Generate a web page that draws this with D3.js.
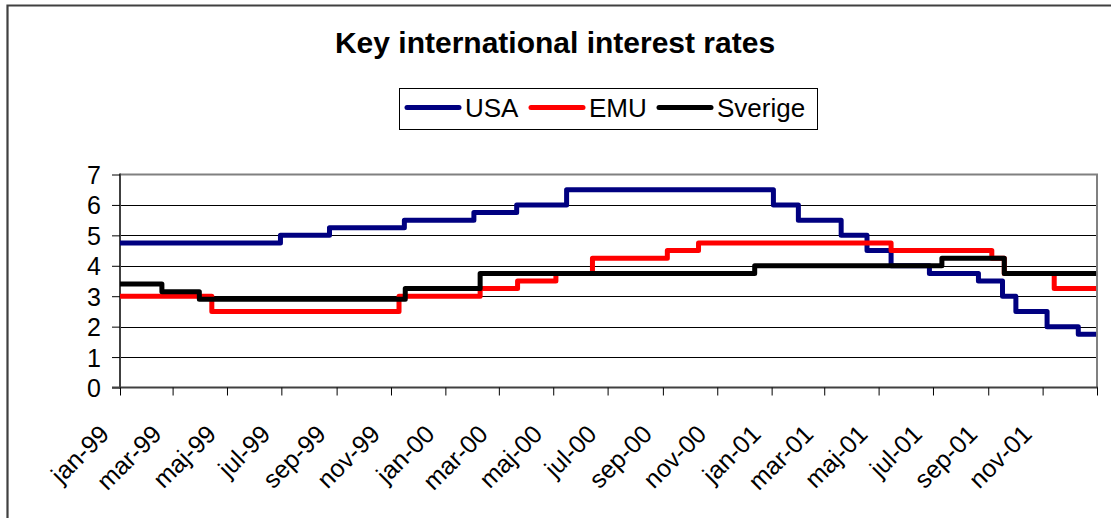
<!DOCTYPE html>
<html>
<head>
<meta charset="utf-8">
<script src="https://cdn.jsdelivr.net/npm/d3@7"></script>
<style>
  body { margin: 0; background: #fff; }
  svg { display: block; font-family: "Liberation Sans", Arial, sans-serif; }
</style>
</head>
<body>
<div id="chart"></div>
<script>
  // Styrräntor, stegvis - datum för ändring och ny nivå
  const usaDates = ['1999-01-01', '1999-06-30', '1999-08-24', '1999-11-16', '2000-02-02', '2000-03-21',
    '2000-05-16', '2001-01-03', '2001-01-31', '2001-03-20', '2001-04-18', '2001-05-15', '2001-06-27',
    '2001-08-21', '2001-09-17', '2001-10-02', '2001-11-06', '2001-12-11', '2001-12-31'];
  const usaRates = [4.75, 5.0, 5.25, 5.5, 5.75, 6.0, 6.5, 6.0, 5.5, 5.0, 4.5, 4.0, 3.75, 3.5, 3.0, 2.5, 2.0, 1.75, 1.75];

  const emuDates = ['1999-01-01', '1999-04-14', '1999-11-10', '2000-02-09', '2000-03-22', '2000-05-04',
    '2000-06-14', '2000-09-06', '2000-10-11', '2001-05-15', '2001-09-05', '2001-09-19', '2001-11-14', '2001-12-31'];
  const emuRates = [3.0, 2.5, 3.0, 3.25, 3.5, 3.75, 4.25, 4.5, 4.75, 4.5, 4.25, 3.75, 3.25, 3.25];

  const sweDates = ['1999-01-01', '1999-02-17', '1999-03-31', '1999-11-17', '2000-02-09', '2000-12-13',
    '2001-07-11', '2001-09-19', '2001-12-31'];
  const sweRates = [3.4, 3.15, 2.9, 3.25, 3.75, 4.0, 4.25, 3.75, 3.75];

  const seriesNames = ['USA', 'EMU', 'Sverige'];
  const seriesColors = ['#000080', '#ff0000', '#000000'];
  const yTicks = [0, 1, 2, 3, 4, 5, 6, 7];
  const monthNames = ['jan', 'feb', 'mar', 'apr', 'maj', 'jun', 'jul', 'aug', 'sep', 'okt', 'nov', 'dec'];

  const width = 1111, height = 518;
  const plot = { left: 120, top: 174.5, right: 1097, bottom: 387.5 };
  const parse = d3.timeParse('%Y-%m-%d');

  const series = [
    { name: seriesNames[0], color: seriesColors[0], values: usaDates.map((d, i) => ({ date: parse(d), v: usaRates[i] })) },
    { name: seriesNames[1], color: seriesColors[1], values: emuDates.map((d, i) => ({ date: parse(d), v: emuRates[i] })) },
    { name: seriesNames[2], color: seriesColors[2], values: sweDates.map((d, i) => ({ date: parse(d), v: sweRates[i] })) }
  ];

  const x = d3.scaleTime()
    .domain([new Date(1999, 0, 1), new Date(2002, 0, 1)])
    .range([plot.left, plot.right]);
  const y = d3.scaleLinear().domain([0, 7]).range([plot.bottom, plot.top]);

  const svg = d3.select('#chart').append('svg')
    .attr('width', width).attr('height', height);

  // ram runt diagrammet
  svg.append('path')
    .attr('d', `M7.5,${height + 5} V5.5 H${width + 5}`)
    .attr('fill', 'none').attr('stroke', '#404040').attr('stroke-width', 2.2);

  // titel
  svg.append('text')
    .attr('x', 555).attr('y', 53)
    .attr('text-anchor', 'middle')
    .attr('font-size', 30).attr('font-weight', 'bold')
    .text('Key international interest rates');

  // stödlinjer
  svg.append('g')
    .selectAll('line').data(yTicks.filter((t) => t > 0 && t < 7)).join('line')
    .attr('x1', plot.left).attr('x2', plot.right)
    .attr('y1', (d) => Math.round(y(d)) + 0.5).attr('y2', (d) => Math.round(y(d)) + 0.5)
    .attr('stroke', '#000').attr('stroke-width', 1);

  // ram runt ritytan (överkant, högerkant)
  svg.append('path')
    .attr('d', `M${plot.left},${plot.top} H${plot.right} V${plot.bottom}`)
    .attr('fill', 'none').attr('stroke', '#808080').attr('stroke-width', 2);

  // y-axel
  const yAxis = svg.append('g')
    .attr('transform', `translate(${plot.left},0)`)
    .call(d3.axisLeft(y).tickValues(yTicks).tickSize(8).tickPadding(11).tickFormat(d3.format('d')));
  yAxis.select('.domain').attr('stroke', '#404040').attr('stroke-width', 2)
    .attr('d', `M0,${plot.top - 1}V${plot.bottom + 1}`);
  yAxis.selectAll('.tick line').attr('stroke', '#000');
  yAxis.selectAll('.tick text')
    .attr('font-size', 25).attr('font-family', '"Liberation Sans", Arial, sans-serif')
    .attr('fill', '#000').attr('dy', '0.36em');

  // x-axel, varannan månad
  const xTicks = d3.timeMonth.every(2).range(new Date(1999, 0, 1), new Date(2002, 0, 2));
  const fmt = (d) => `${monthNames[d.getMonth()]}-${String(d.getFullYear() % 100).padStart(2, '0')}`;
  const xAxis = svg.append('g')
    .attr('transform', `translate(0,${plot.bottom})`)
    .call(d3.axisBottom(x).tickValues(xTicks).tickSize(8)
      .tickFormat((d) => (d.getFullYear() === 2002 ? '' : fmt(d))));
  xAxis.select('.domain').attr('stroke', '#404040').attr('stroke-width', 2)
    .attr('d', `M${plot.left - 8},0H${plot.right + 1}`);
  xAxis.selectAll('.tick line').attr('stroke', '#000');
  xAxis.selectAll('.tick text')
    .attr('font-size', 25).attr('font-family', '"Liberation Sans", Arial, sans-serif')
    .attr('fill', '#000')
    .attr('text-anchor', 'end')
    .attr('transform', 'rotate(-45)')
    .attr('x', -41).attr('y', 27).attr('dy', 0);

  // serier
  const line = d3.line()
    .x((d) => x(d.date)).y((d) => y(d.v))
    .curve(d3.curveStepAfter);

  svg.append('g')
    .selectAll('path').data(series).join('path')
    .attr('d', (d) => line(d.values))
    .attr('fill', 'none')
    .attr('stroke', (d) => d.color)
    .attr('stroke-width', 5)
    .attr('stroke-linejoin', 'round')
    .attr('stroke-linecap', 'butt');

  // förklaring
  const legend = svg.append('g');
  legend.append('rect')
    .attr('x', 399.5).attr('y', 88.5).attr('width', 418).attr('height', 41)
    .attr('fill', '#fff').attr('stroke', '#000').attr('stroke-width', 1);
  const legendX = [407, 531, 659];
  const item = legend.selectAll('g.item').data(series).join('g')
    .attr('class', 'item')
    .attr('transform', (d, i) => `translate(${legendX[i]},0)`);
  item.append('line')
    .attr('x1', 0).attr('x2', 52).attr('y1', 107.5).attr('y2', 107.5)
    .attr('stroke', (d) => d.color).attr('stroke-width', 5).attr('stroke-linecap', 'round');
  item.append('text')
    .attr('x', 58).attr('y', 117)
    .attr('font-size', 26)
    .text((d) => d.name);
</script>
</body>
</html>
